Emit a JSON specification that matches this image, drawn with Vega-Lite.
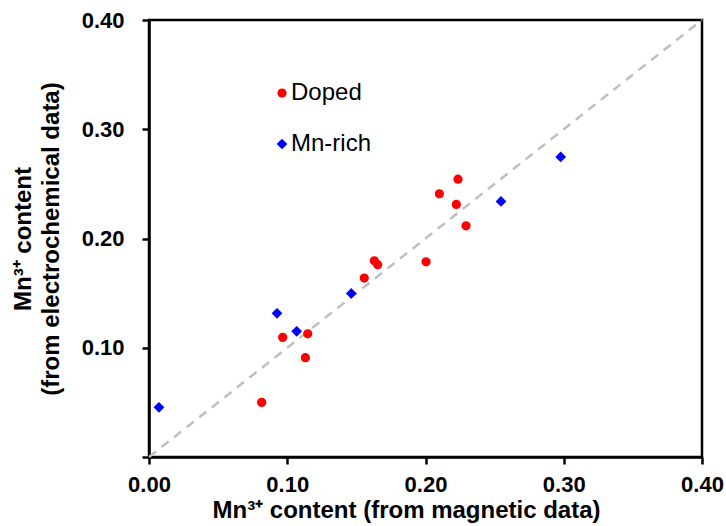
{
  "$schema": "https://vega.github.io/schema/vega-lite/v6.json",
  "width": 553,
  "height": 437,
  "autosize": {"type": "none"},
  "padding": {"left": 149, "top": 20, "right": 24, "bottom": 69},
  "background": "white",
  "config": {
    "font": "Liberation Sans",
    "view": {"stroke": "black", "strokeWidth": 2.5},
    "axis": {
      "domainColor": "black", "domainWidth": 2.5,
      "tickColor": "black", "tickWidth": 2.5, "tickSize": 7,
      "grid": false, "labelFlush": false,
      "labelFont": "Liberation Sans", "labelFontWeight": "bold", "labelFontSize": 22, "labelColor": "black",
      "titleFont": "Liberation Sans", "titleFontWeight": "bold", "titleFontSize": 24, "titleColor": "black"
    }
  },
  "layer": [
    {
      "data": {"values": [{"x": 0, "y": 0}, {"x": 0.4, "y": 0.4}]},
      "mark": {"type": "line", "color": "#bfbfbf", "strokeWidth": 2.5, "strokeDash": [9, 7]},
      "encoding": {
        "x": {"field": "x", "type": "quantitative"},
        "y": {"field": "y", "type": "quantitative"}
      }
    },
    {
      "data": {"values": [
        {"magnetic": 0.0815, "electrochemical": 0.050, "series": "Doped"},
        {"magnetic": 0.0967, "electrochemical": 0.1095, "series": "Doped"},
        {"magnetic": 0.1148, "electrochemical": 0.1128, "series": "Doped"},
        {"magnetic": 0.1131, "electrochemical": 0.0909, "series": "Doped"},
        {"magnetic": 0.1557, "electrochemical": 0.1638, "series": "Doped"},
        {"magnetic": 0.1630, "electrochemical": 0.1796, "series": "Doped"},
        {"magnetic": 0.1654, "electrochemical": 0.1760, "series": "Doped"},
        {"magnetic": 0.2004, "electrochemical": 0.1787, "series": "Doped"},
        {"magnetic": 0.2100, "electrochemical": 0.2409, "series": "Doped"},
        {"magnetic": 0.2235, "electrochemical": 0.2543, "series": "Doped"},
        {"magnetic": 0.2223, "electrochemical": 0.2312, "series": "Doped"},
        {"magnetic": 0.2293, "electrochemical": 0.2116, "series": "Doped"},
        {"magnetic": 0.0072, "electrochemical": 0.0455, "series": "Mn-rich"},
        {"magnetic": 0.0926, "electrochemical": 0.1315, "series": "Mn-rich"},
        {"magnetic": 0.1068, "electrochemical": 0.1150, "series": "Mn-rich"},
        {"magnetic": 0.1463, "electrochemical": 0.1497, "series": "Mn-rich"},
        {"magnetic": 0.2546, "electrochemical": 0.2339, "series": "Mn-rich"},
        {"magnetic": 0.2978, "electrochemical": 0.2747, "series": "Mn-rich"}
      ]},
      "mark": {"type": "point", "filled": true, "opacity": 1},
      "encoding": {
        "x": {
          "field": "magnetic", "type": "quantitative",
          "scale": {"domain": [0, 0.4], "nice": false, "zero": true},
          "axis": {
            "values": [0, 0.1, 0.2, 0.3, 0.4], "format": ".2f", "labelPadding": 10,
            "title": "Mn³⁺ content (from magnetic data)", "titlePadding": 3,
            "titleX": 257, "titleAlign": "center"
          }
        },
        "y": {
          "field": "electrochemical", "type": "quantitative",
          "scale": {"domain": [0, 0.4], "nice": false, "zero": true},
          "axis": {
            "values": [0, 0.1, 0.2, 0.3, 0.4],
            "labelExpr": "datum.value == 0 ? '' : format(datum.value, '.2f')",
            "labelPadding": 18,
            "title": ["Mn³⁺ content", "(from electrochemical data)"],
            "titleLineHeight": 28, "titlePadding": 18
          }
        },
        "color": {
          "field": "series", "type": "nominal",
          "scale": {"domain": ["Doped", "Mn-rich"], "range": ["#ff0000", "#0000ff"]},
          "legend": {
            "orient": "none", "legendX": 121, "legendY": 61, "title": null,
            "labelFont": "Liberation Sans", "labelFontSize": 24, "labelColor": "black",
            "symbolSize": 40, "rowPadding": 27, "labelOffset": -3, "symbolStrokeWidth": 0
          }
        },
        "shape": {
          "field": "series", "type": "nominal",
          "scale": {"domain": ["Doped", "Mn-rich"], "range": ["circle", "diamond"]},
          "legend": null
        },
        "size": {
          "field": "series", "type": "nominal",
          "scale": {"domain": ["Doped", "Mn-rich"], "range": [85, 115]},
          "legend": null
        }
      }
    }
  ]
}
